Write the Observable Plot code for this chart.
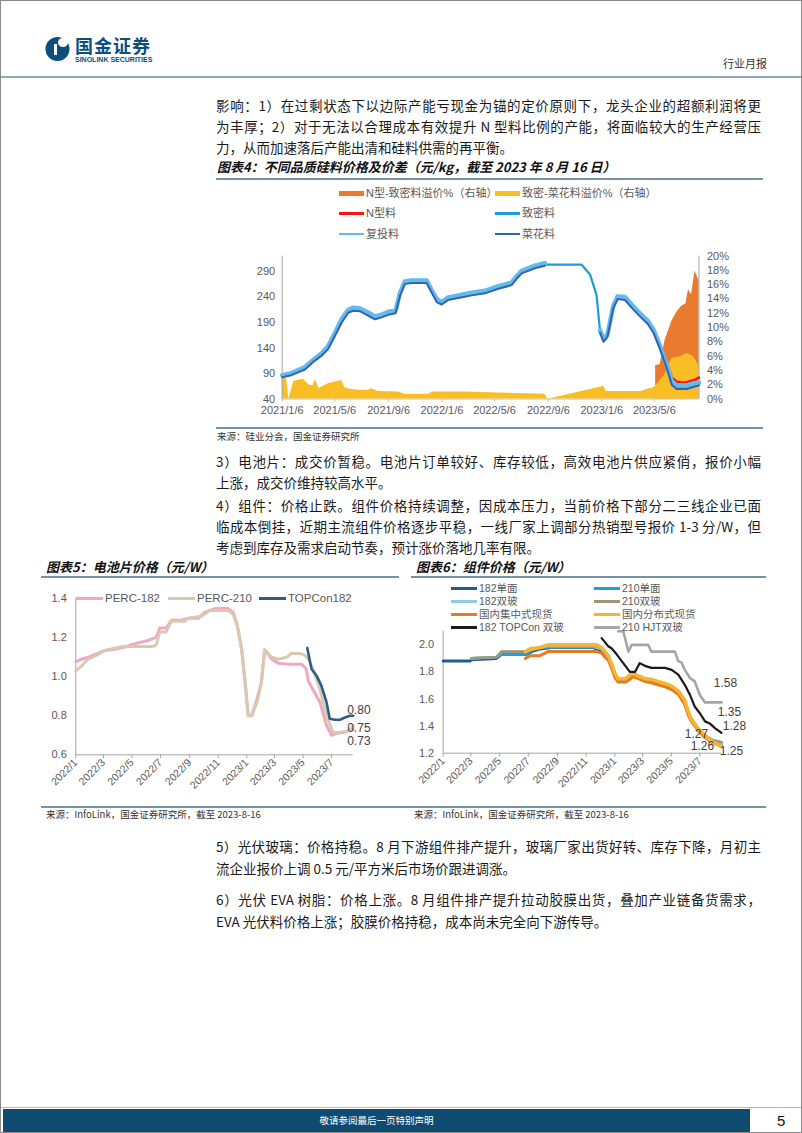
<!DOCTYPE html>
<html><head><meta charset="utf-8">
<script src="https://cdn.jsdelivr.net/npm/d3@7"></script>
<script src="https://cdn.jsdelivr.net/npm/@observablehq/plot@0.6"></script>
<style>
body{margin:0;background:#fff;}
#page{position:relative;width:802px;height:1133px;box-sizing:border-box;border:1px solid #8a8a8a;overflow:hidden;font-family:"Noto Sans CJK SC","Noto Sans",sans-serif;color:#1a1a1a;background:#fff;}
.abs{position:absolute;}
.ln{position:absolute;left:215px;width:545px;font-size:13.5px;line-height:22px;height:22px;color:#1a1a1a;}
.j{text-align:justify;text-align-last:justify;}
.title{position:absolute;font-size:13px;font-weight:700;font-style:italic;line-height:18px;color:#111;white-space:nowrap;}
.rule{position:absolute;height:2px;background:#7393a6;}
.src{position:absolute;font-size:9.5px;line-height:12px;color:#333;white-space:nowrap;}
.leg{position:absolute;font-family:"Liberation Sans","Noto Sans CJK SC",sans-serif;font-size:11px;color:#595959;white-space:nowrap;line-height:14px;}
.sw{position:absolute;}
</style></head>
<body>
<div id="page">
  <svg class="abs" style="left:44px;top:34px" width="26" height="27" viewBox="0 0 26 27">
    <circle cx="12.5" cy="14" r="12" fill="#0c4f7c"/>
    <ellipse cx="18" cy="7.5" rx="5" ry="4.5" fill="#fff"/>
    <rect x="9" y="9" width="3" height="11" fill="#fff"/>
  </svg>
  <div class="abs" style="left:74px;top:33px;font-size:18px;font-weight:700;color:#0c4f7c;letter-spacing:1px;line-height:22px;">国金证券</div>
  <div class="abs" style="left:74px;top:55px;font-family:'Liberation Sans',sans-serif;font-size:7px;font-weight:700;color:#0c4f7c;line-height:8px;">SINOLINK SECURITIES</div>
  <div class="abs" style="left:722px;top:55px;font-size:11px;color:#333;line-height:14px;">行业月报</div>
  <div class="abs" style="left:0;top:75px;width:802px;height:2px;background:#8ca7b6;"></div>

  <div class="ln j" style="top:93px">影响：1）在过剩状态下以边际产能亏现金为锚的定价原则下，龙头企业的超额利润将更</div>
  <div class="ln j" style="top:114px">为丰厚；2）对于无法以合理成本有效提升 N 型料比例的产能，将面临较大的生产经营压</div>
  <div class="ln" style="top:135px">力，从而加速落后产能出清和硅料供需的再平衡。</div>

  <div class="title" style="left:216px;top:157px">图表4：不同品质硅料价格及价差（元/kg，截至 2023 年 8 月 16 日）</div>
  <div class="rule" style="left:215px;top:177px;width:547px;"></div>

  <div id="leg4"></div>
  <div id="c4" class="abs" style="left:230px;top:245px;width:520px;height:175px;"></div>

  <div class="rule" style="left:215px;top:426px;width:547px;height:1.5px;"></div>
  <div class="src" style="left:216px;top:429px">来源：硅业分会，国金证券研究所</div>

  <div class="ln j" style="top:449px">3）电池片：成交价暂稳。电池片订单较好、库存较低，高效电池片供应紧俏，报价小幅</div>
  <div class="ln" style="top:470px">上涨，成交价维持较高水平。</div>
  <div class="ln j" style="top:493px">4）组件：价格止跌。组件价格持续调整，因成本压力，当前价格下部分二三线企业已面</div>
  <div class="ln j" style="top:514px">临成本倒挂，近期主流组件价格逐步平稳，一线厂家上调部分热销型号报价 1-3 分/W，但</div>
  <div class="ln" style="top:535px">考虑到库存及需求启动节奏，预计涨价落地几率有限。</div>

  <div class="title" style="left:45px;top:557px">图表5：电池片价格（元/W）</div>
  <div class="title" style="left:415px;top:557px">图表6：组件价格（元/W）</div>
  <div class="rule" style="left:40px;top:575px;width:358px;"></div>
  <div class="rule" style="left:410px;top:575px;width:355px;"></div>

  <div id="c5" class="abs" style="left:40px;top:580px;width:360px;height:220px;"></div>
  <div id="leg5"></div>
  <div id="c6" class="abs" style="left:410px;top:580px;width:392px;height:220px;"></div>
  <div id="leg6"></div>

  <div class="rule" style="left:40px;top:805px;width:725px;height:1.5px;"></div>
  <div class="src" style="left:45px;top:807px">来源：InfoLink，国金证券研究所，截至 2023-8-16</div>
  <div class="src" style="left:413px;top:807px">来源：InfoLink，国金证券研究所，截至 2023-8-16</div>

  <div class="ln j" style="top:834px">5）光伏玻璃：价格持稳。8 月下游组件排产提升，玻璃厂家出货好转、库存下降，月初主</div>
  <div class="ln" style="top:856px">流企业报价上调 0.5 元/平方米后市场价跟进调涨。</div>
  <div class="ln j" style="top:887px">6）光伏 EVA 树脂：价格上涨。8 月组件排产提升拉动胶膜出货，叠加产业链备货需求，</div>
  <div class="ln" style="top:909px">EVA 光伏料价格上涨；胶膜价格持稳，成本尚未完全向下游传导。</div>

  <div class="abs" style="left:0;top:1106px;width:802px;height:1px;background:#9cc0d4;"></div>
  <div class="abs" style="left:2px;top:1108px;width:747px;height:23px;background:#0f4b70;"></div>
  <div class="abs" style="left:2px;top:1108px;width:747px;height:23px;line-height:23px;text-align:center;color:#fff;font-size:9.5px;">敬请参阅最后一页特别声明</div>
  <div class="abs" style="left:776px;top:1110px;font-family:'Liberation Sans',sans-serif;font-size:15px;color:#111;line-height:20px;">5</div>
</div>

<script>
// ---------------- DATA ----------------
// Chart 4: polysilicon prices (元/kg)
const siDates = ["2021-01-06","2021-01-27","2021-02-27","2021-03-21","2021-04-06","2021-04-21","2021-05-06","2021-05-22","2021-06-06","2021-06-17","2021-07-02","2021-07-18","2021-08-06","2021-08-21","2021-09-05","2021-09-22","2021-10-02","2021-10-13","2021-10-28","2021-12-02","2021-12-13","2021-12-25","2022-01-05","2022-01-20","2022-02-12","2022-03-15","2022-04-14","2022-05-15","2022-06-14","2022-06-25","2022-07-07","2022-08-06","2022-08-29","2022-11-21","2022-12-10","2022-12-25","2023-01-02","2023-01-10","2023-01-19","2023-02-01","2023-02-11","2023-02-28","2023-03-15","2023-04-03","2023-04-21","2023-05-04","2023-05-19","2023-06-03","2023-06-15","2023-06-26","2023-07-19","2023-08-03","2023-08-16"];
const siDense    = [85,89,101,117,127,141,166,194,212,216,215,208,199,202,208,210,245,267,269,269,251,233,227,236,240,245,249,258,265,277,288,298,303,303,284,244,173,155,164,219,238,237,222,205,190,173,141,105,72,64,64,68,70];
const siRecharge = [87,91,103,119,130,144,169,197,215,219,218,211,202,205,211,213,248,270,272,272,254,236,230,239,243,248,252,261,268,280,291,301,306,null,null,null,175,158,167,222,241,240,225,208,193,176,144,108,75,67,67,71,72];
const siCauli    = [83,87,98,115,125,138,163,190,209,213,212,205,196,200,205,208,242,265,267,267,249,230,225,234,238,243,247,256,263,275,286,296,301,null,null,null,170,152,162,217,236,234,219,202,187,170,138,102,68,60,60,64,67];
const nDates = ["2023-05-09","2023-05-19","2023-05-30","2023-06-07","2023-06-15","2023-06-26","2023-07-08","2023-07-19","2023-07-30","2023-08-07","2023-08-16"];
const nType  = [165,145,122,100,82,74,72.5,73,76,78,82];
const spreadDates = ["2021-01-06","2021-01-16","2021-01-21","2021-02-02","2021-02-23","2021-03-10","2021-03-18","2021-03-23","2021-03-31","2021-04-21","2021-05-14","2021-05-22","2021-05-29","2021-06-10","2021-06-29","2021-07-22","2021-07-29","2021-08-13","2021-09-28","2021-10-13","2021-12-06","2021-12-17","2022-02-27","2022-05-15","2022-06-22","2022-08-29","2022-09-05","2023-01-04","2023-01-10","2023-01-17","2023-04-07","2023-04-18","2023-05-04","2023-05-11","2023-05-30","2023-06-15","2023-07-04","2023-07-19","2023-08-03","2023-08-16"];
const spreadPct = [2.9,2.9,0,2.5,2.8,1.9,1.9,2.8,1.5,2.15,2.5,2.6,1.6,1.4,1.26,1.26,1.45,1.07,1.0,0.7,0.7,1.0,1.0,0.85,0.8,0.7,null,1.7,1.8,1.07,1.07,1.35,1.6,2.0,3.4,5.7,5.9,6.4,6.0,4.6];
const nPremDates = ["2023-05-09","2023-05-19","2023-05-24","2023-05-30","2023-06-07","2023-06-15","2023-06-26","2023-07-08","2023-07-17","2023-07-23","2023-07-30","2023-08-07","2023-08-13","2023-08-16"];
const nPremPct = [4.7,4.8,6.2,8.1,9.5,10.9,12.1,13.0,13.3,15.3,14.6,17.9,17.0,16.5];
const leftTicks4 = [40,90,140,190,240,290];
const rightTicks4 = [0,2,4,6,8,10,12,14,16,18,20];
const xTickLabels4 = ["2021/1/6","2021/5/6","2021/9/6","2022/1/6","2022/5/6","2022/9/6","2023/1/6","2023/5/6"];
const legend4 = ["N型-致密料溢价%（右轴）","致密-菜花料溢价%（右轴）","N型料","致密料","复投料","菜花料"];

// Chart 5: cell prices (元/W)
const perc182Dates = ["2022-01-01","2022-01-13","2022-01-27","2022-02-14","2022-03-04","2022-03-22","2022-04-12","2022-04-30","2022-05-21","2022-06-04","2022-06-22","2022-06-29","2022-07-13","2022-07-24","2022-08-14","2022-08-29","2022-09-19","2022-10-03","2022-10-25","2022-11-22","2022-12-03","2022-12-10","2022-12-21","2022-12-28","2023-01-04","2023-01-11","2023-01-22","2023-02-01","2023-02-08","2023-02-14","2023-02-23","2023-03-09","2023-03-30","2023-04-28","2023-05-08","2023-05-12","2023-05-22","2023-06-06","2023-06-20","2023-07-01","2023-07-11","2023-07-26","2023-08-16"];
const perc182 = [1.078,1.09,1.10,1.118,1.135,1.14,1.15,1.165,1.178,1.186,1.203,1.25,1.25,1.29,1.29,1.30,1.30,1.33,1.35,1.35,1.33,1.28,1.14,0.97,0.80,0.80,0.88,0.97,1.138,1.12,1.09,1.07,1.065,1.065,1.04,0.98,0.935,0.87,0.75,0.70,0.71,0.715,0.73];
const perc210Dates = ["2022-01-01","2022-01-13","2022-01-27","2022-02-14","2022-03-04","2022-03-22","2022-04-12","2022-06-15","2022-06-22","2022-06-29","2022-07-13","2022-07-24","2022-08-21","2022-08-29","2022-09-26","2022-10-14","2022-11-22","2022-12-03","2022-12-13","2022-12-21","2022-12-29","2023-01-04","2023-01-12","2023-01-24","2023-02-01","2023-02-08","2023-02-23","2023-03-09","2023-03-27","2023-04-06","2023-04-24","2023-05-05","2023-05-13","2023-05-22","2023-06-06","2023-06-20","2023-07-04","2023-07-19","2023-08-02","2023-08-09","2023-08-16"];
const perc210 = [1.03,1.055,1.09,1.11,1.135,1.145,1.155,1.155,1.165,1.23,1.23,1.285,1.285,1.30,1.31,1.34,1.34,1.32,1.25,1.14,0.97,0.80,0.80,0.88,0.97,1.14,1.10,1.09,1.10,1.12,1.12,1.11,1.09,1.04,0.935,0.80,0.715,0.715,0.72,0.73,0.75];
const topcon182Dates = ["2023-05-10","2023-05-19","2023-05-30","2023-06-09","2023-06-20","2023-06-27","2023-07-08","2023-07-19","2023-07-28","2023-08-09","2023-08-16"];
const topcon182 = [1.148,1.04,1.005,0.955,0.87,0.785,0.78,0.78,0.79,0.80,0.80];
const yTicks5 = [0.6,0.8,1.0,1.2,1.4];
const xTickLabels5 = ["2022/1","2022/3","2022/5","2022/7","2022/9","2022/11","2023/1","2023/3","2023/5","2023/7"];
const legend5 = ["PERC-182","PERC-210","TOPCon182"];
const endLabels5 = ["0.80","0.75","0.73"];

// Chart 6: module prices (元/W)
const modDates = ["2022-03-02","2022-04-24","2022-05-05","2022-06-27","2022-07-08","2022-07-26","2022-08-19","2022-11-16","2022-11-23","2022-12-04","2022-12-11","2022-12-18","2022-12-25","2023-01-01","2023-01-08","2023-01-23","2023-02-02","2023-02-09","2023-02-20","2023-03-06","2023-03-20","2023-04-03","2023-04-18","2023-05-02","2023-05-16","2023-05-30","2023-06-06","2023-06-13","2023-06-28","2023-07-12","2023-07-26","2023-08-06","2023-08-16"];
const m182mono = [1.89,1.90,1.93,1.93,1.95,1.97,1.98,1.98,1.97,1.96,1.93,1.90,1.84,1.78,1.74,1.74,1.76,1.78,1.76,1.74,1.73,1.715,1.70,1.68,1.645,1.57,1.49,1.44,1.37,1.32,1.29,1.27,1.26];
const m210mono = [1.90,1.91,1.93,1.93,1.96,1.98,1.98,1.98,1.98,1.97,1.95,1.92,1.86,1.79,1.75,1.75,1.77,1.79,1.77,1.75,1.74,1.725,1.71,1.69,1.655,1.58,1.50,1.45,1.38,1.33,1.30,1.285,1.28];
const m182bi   = [1.90,1.91,1.95,1.95,1.97,1.98,1.99,1.99,1.98,1.97,1.94,1.91,1.85,1.78,1.745,1.745,1.77,1.785,1.765,1.745,1.735,1.72,1.705,1.685,1.65,1.575,1.495,1.445,1.375,1.325,1.295,1.28,1.27];
const m210bi   = [1.90,1.91,1.95,1.95,1.96,1.98,1.99,1.99,1.99,1.975,1.945,1.915,1.855,1.785,1.75,1.75,1.775,1.79,1.77,1.75,1.74,1.725,1.71,1.69,1.655,1.58,1.50,1.45,1.38,1.33,1.30,1.29,1.28];
const m182monoEarlyDates = ["2022-01-01","2022-02-27"];
const m182monoEarly = [1.88,1.88];
const distDates = ["2022-06-25","2022-07-05","2022-07-26","2022-08-12","2022-11-23","2022-12-04","2022-12-11","2022-12-18","2022-12-25","2023-01-01","2023-01-08","2023-01-23","2023-02-02","2023-02-09","2023-02-20","2023-03-06","2023-03-20","2023-04-03","2023-04-18","2023-05-02","2023-05-16","2023-05-30","2023-06-06","2023-06-13","2023-06-28","2023-07-12","2023-07-26","2023-08-06","2023-08-16"];
const central = [1.90,1.92,1.92,1.95,1.95,1.94,1.91,1.89,1.83,1.76,1.725,1.725,1.745,1.765,1.75,1.73,1.72,1.705,1.69,1.67,1.635,1.56,1.485,1.435,1.365,1.315,1.28,1.265,1.25];
const distributed = [1.95,1.97,1.98,2.00,2.00,1.98,1.95,1.92,1.86,1.79,1.75,1.75,1.775,1.79,1.77,1.75,1.745,1.73,1.715,1.695,1.66,1.59,1.51,1.45,1.38,1.33,1.29,1.265,1.25];
const topconDates = ["2022-12-04","2022-12-11","2022-12-18","2022-12-25","2023-01-05","2023-01-19","2023-02-02","2023-02-13","2023-02-23","2023-03-06","2023-03-20","2023-04-18","2023-05-02","2023-05-16","2023-05-30","2023-06-10","2023-06-20","2023-07-01","2023-07-12","2023-07-22","2023-08-02","2023-08-16"];
const topconBi = [2.05,2.02,1.99,1.975,1.93,1.865,1.80,1.80,1.865,1.845,1.83,1.83,1.815,1.78,1.705,1.63,1.545,1.495,1.435,1.42,1.385,1.35];
const hjtDates = ["2023-01-08","2023-01-19","2023-01-30","2023-02-06","2023-03-13","2023-03-20","2023-05-09","2023-05-16","2023-05-23","2023-05-30","2023-06-10","2023-06-20","2023-07-01","2023-07-12","2023-08-16"];
const hjtBi = [2.10,2.10,1.95,2.00,2.00,1.95,1.95,1.88,1.87,1.815,1.755,1.73,1.63,1.575,1.575];
const yTicks6 = [1.2,1.4,1.6,1.8,2.0];
const legend6 = ["182单面","210单面","182双玻","210双玻","国内集中式现货","国内分布式现货","182 TOPCon 双玻","210 HJT双玻"];
const endLabels6 = ["1.58","1.35","1.28","1.27","1.26","1.25"];

// ---------------- HELPERS ----------------
const parse = s => { const [y,m,d] = s.split(/[-\/]/).map(Number); return new Date(Date.UTC(y, m-1, d || 1)); };
const rows = (dates, values) => dates.map((d,i) => ({date: parse(d), v: values[i]}));
const fmtYMD = d => `${d.getUTCFullYear()}/${d.getUTCMonth()+1}/${d.getUTCDate()}`;
const fmtYM = d => `${d.getUTCFullYear()}/${d.getUTCMonth()+1}`;
const FONT = "'Liberation Sans','Noto Sans CJK SC',sans-serif";
const baseStyle = {background:"transparent", fontFamily: FONT, fontSize:"11px", color:"#595959", overflow:"visible"};
const AXIS = "#a6a6a6";

function legendItem(container, px, py, kind, color, label, thick, swW, fontSize) {
  const sw = document.createElement("div");
  sw.className = "sw";
  const h = kind === "rect" ? 5 : thick;
  sw.style.cssText = `left:${px}px;top:${py - h/2}px;width:${swW}px;height:${h}px;background:${color};`;
  container.appendChild(sw);
  const t = document.createElement("div");
  t.className = "leg";
  t.style.left = (px + swW + 2) + "px";
  t.style.top = (py - 7.5) + "px";
  if (fontSize) t.style.fontSize = fontSize;
  t.textContent = label;
  container.appendChild(t);
}

// ---------------- CHART 4 ----------------
try {
  const W = 520, H = 175;
  const m = {marginTop: 9.5, marginRight: 52.5, marginBottom: 22.3, marginLeft: 50.7};
  const xDom = [parse(siDates[0]), parse(siDates[siDates.length-1])];
  const siRows = siDates.map((d,i) => ({date: parse(d), dense: siDense[i], rech: siRecharge[i], cauli: siCauli[i]}));
  const areas = Plot.plot({
    width: W, height: H, ...m, style: baseStyle,
    x: {type:"utc", domain: xDom, axis: null},
    y: {domain: [0, 20], axis: null},
    marks: [
      Plot.areaY(rows(nPremDates, nPremPct), {x:"date", y:"v", fill:"#ea7a2d"}),
      Plot.areaY(rows(spreadDates, spreadPct), {x:"date", y:"v", fill:"#f9be23"}),
      Plot.ruleX([xDom[1]], {stroke: AXIS, strokeWidth: 1}),
      Plot.axisY({anchor:"right", label: null, ticks: rightTicks4, tickFormat: d => d + "%", tickSize: 0, tickPadding: 8, fill:"#595959", fontSize: 11})
    ]
  });
  const lines = Plot.plot({
    width: W, height: H, ...m, style: baseStyle,
    x: {type:"utc", domain: xDom},
    y: {domain: [40, 320]},
    marks: [
      Plot.ruleX([xDom[0]], {stroke: AXIS}),
      Plot.ruleY([40], {stroke: "#d0d0d0"}),
      Plot.line(rows(nDates, nType), {x:"date", y:"v", stroke:"#ff1010", strokeWidth: 2.6}),
      Plot.line(siRows, {x:"date", y:"dense", stroke:"#1e9bd8", strokeWidth: 2.2}),
      Plot.line(siRows, {x:"date", y:"rech", stroke:"#62bbee", strokeWidth: 4.5}),
      Plot.line(siRows, {x:"date", y:"cauli", stroke:"#3563ad", strokeWidth: 2}),
      Plot.axisY({label: null, ticks: leftTicks4, tickSize: 0, tickPadding: 7, fill:"#595959", fontSize: 11}),
      Plot.axisX({label: null, ticks: xTickLabels4.map(parse), tickFormat: fmtYMD, tickSize: 3, tickPadding: 3.5, stroke:"#bfbfbf", fill:"#595959", fontSize: 11})
    ]
  });
  const c = document.getElementById("c4");
  areas.style.position = "absolute"; areas.style.left = "0"; areas.style.top = "0";
  lines.style.position = "absolute"; lines.style.left = "0"; lines.style.top = "0";
  c.appendChild(areas); c.appendChild(lines);

  const lg = document.getElementById("leg4");
  const colX = [338, 494], rowY = [192, 212.5, 233];
  const kinds = ["rect","rect","line","line","line","line"];
  const cols = ["#ea7a2d","#f9be23","#ff1010","#1e9bd8","#62bbee","#3563ad"];
  legend4.forEach((lab, i) => legendItem(lg, colX[i%2], rowY[Math.floor(i/2)], kinds[i], cols[i], lab, 2.5, 25));
} catch (e) { console.error(e); }

// ---------------- CHART 5 ----------------
try {
  const W = 360, H = 220;
  const xDom = [parse("2022-01-01"), parse("2023-08-16")];
  const last = (ds, vs) => ({date: parse(ds[ds.length-1]), v: vs[vs.length-1]});
  const ends = [
    {...last(topcon182Dates, topcon182), t: endLabels5[0], dy: -6},
    {...last(perc210Dates, perc210), t: endLabels5[1], dy: 3},
    {...last(perc182Dates, perc182), t: endLabels5[2], dy: 12}
  ];
  const p = Plot.plot({
    width: W, height: H, marginTop: 17.3, marginRight: 48.3, marginBottom: 46.7, marginLeft: 34.3,
    style: baseStyle,
    x: {type:"utc", domain: xDom},
    y: {domain: [0.6, 1.4]},
    marks: [
      Plot.ruleX([xDom[0]], {stroke: AXIS}),
      Plot.ruleY([0.6], {stroke: AXIS}),
      Plot.line(rows(perc182Dates, perc182), {x:"date", y:"v", stroke:"#f3a6c1", strokeWidth: 3}),
      Plot.line(rows(perc210Dates, perc210), {x:"date", y:"v", stroke:"#d7cab0", strokeWidth: 3}),
      Plot.line(rows(topcon182Dates, topcon182), {x:"date", y:"v", stroke:"#2f5b88", strokeWidth: 2.6}),
      ...ends.map(e => Plot.text([e], {x:"date", y:"v", text:"t", dx: -6, dy: e.dy, textAnchor:"start", fill:"#404040", fontSize: 12})),
      Plot.axisY({label: null, ticks: yTicks5, tickFormat: d => d.toFixed(1), tickSize: 0, tickPadding: 9, fill:"#595959", fontSize: 11}),
      Plot.axisX({label: null, ticks: xTickLabels5.map(parse), tickFormat: fmtYM, tickSize: 4, tickPadding: 2, tickRotate: -45, stroke: AXIS, fill:"#595959", fontSize: 10.5})
    ]
  });
  document.getElementById("c5").appendChild(p);
  const lg = document.getElementById("leg5");
  const cols = ["#f3a6c1","#d7cab0","#2f5b88"];
  const xs = [75, 167, 258];
  legend5.forEach((lab,i) => legendItem(lg, xs[i], 597, "line", cols[i], lab, 3, 27, "11.5px"));
} catch (e) { console.error(e); }

// ---------------- CHART 6 ----------------
try {
  const W = 392, H = 220;
  const xDom = [parse("2022-01-01"), parse("2023-08-16")];
  const endDate = parse("2023-08-16");
  const ends = [
    {t: endLabels6[0], v: hjtBi[hjtBi.length-1], dx: 4, dy: -19},
    {t: endLabels6[1], v: topconBi[topconBi.length-1], dx: 8, dy: -21},
    {t: endLabels6[2], v: m210bi[m210bi.length-1], dx: 13, dy: -16},
    {t: endLabels6[3], v: m182bi[m182bi.length-1], dx: -25, dy: -10},
    {t: endLabels6[4], v: m182mono[m182mono.length-1], dx: -19, dy: 1},
    {t: endLabels6[5], v: central[central.length-1], dx: 10, dy: 5}
  ].map(d => ({...d, date: endDate}));
  const cols = ["#1f5c99","#1fa0dc","#92cbea","#a39578","#e8791f","#f4b632","#1a1a1a","#a6a6a6"];
  const p = Plot.plot({
    width: W, height: H, marginTop: 49.8, marginRight: 82, marginBottom: 48.3, marginLeft: 31.7,
    style: baseStyle,
    x: {type:"utc", domain: xDom},
    y: {domain: [1.2, 2.1]},
    marks: [
      Plot.ruleX([xDom[0]], {stroke: AXIS}),
      Plot.ruleY([1.2], {stroke: AXIS}),
      Plot.line([...rows(m182monoEarlyDates, m182monoEarly), ...rows(modDates, m182mono)], {x:"date", y:"v", stroke: cols[0], strokeWidth: 3}),
      Plot.line(rows(modDates, m210mono), {x:"date", y:"v", stroke: cols[1], strokeWidth: 2.6}),
      Plot.line(rows(modDates, m182bi), {x:"date", y:"v", stroke: cols[2], strokeWidth: 2.6}),
      Plot.line(rows(modDates, m210bi), {x:"date", y:"v", stroke: cols[3], strokeWidth: 2.6}),
      Plot.line(rows(distDates, central), {x:"date", y:"v", stroke: cols[4], strokeWidth: 3}),
      Plot.line(rows(distDates, distributed), {x:"date", y:"v", stroke: cols[5], strokeWidth: 3.6}),
      Plot.line(rows(topconDates, topconBi), {x:"date", y:"v", stroke: cols[6], strokeWidth: 2.2}),
      Plot.line(rows(hjtDates, hjtBi), {x:"date", y:"v", stroke: cols[7], strokeWidth: 2.6}),
      ...ends.map(e => Plot.text([e], {x:"date", y:"v", text:"t", dx: e.dx, dy: e.dy, textAnchor:"middle", fill:"#404040", fontSize: 12})),
      Plot.axisY({label: null, ticks: yTicks6, tickFormat: d => d.toFixed(1), tickSize: 0, tickPadding: 9, fill:"#595959", fontSize: 11}),
      Plot.axisX({label: null, ticks: xTickLabels5.map(parse), tickFormat: fmtYM, tickSize: 4, tickPadding: 2, tickRotate: -45, stroke: AXIS, fill:"#595959", fontSize: 10.5})
    ]
  });
  document.getElementById("c6").appendChild(p);
  const lg = document.getElementById("leg6");
  const xs = [450, 593], ys = [587, 600, 613, 626];
  legend6.forEach((lab,i) => legendItem(lg, xs[i%2], ys[Math.floor(i/2)], "line", cols[i], lab, 3, 26, "10.5px"));
} catch (e) { console.error(e); }
</script>
</body></html>
